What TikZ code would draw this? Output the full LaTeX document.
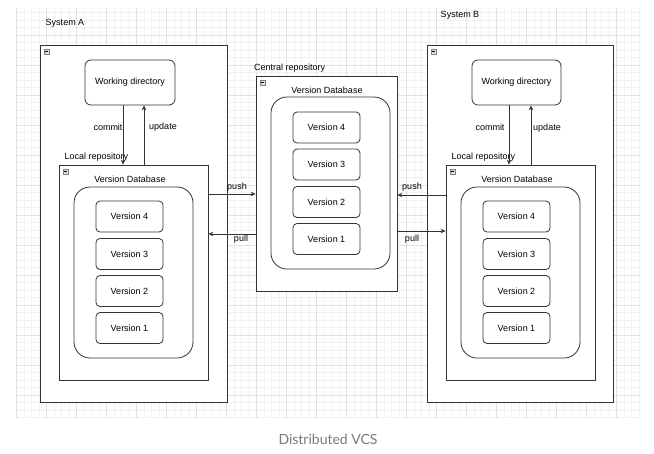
\documentclass[tikz,border=0pt]{standalone}
\usepackage{fontspec}
\setmainfont{Liberation Sans}
\newfontfamily\capfont{Lato}
\usetikzlibrary{arrows.meta}
\definecolor{lineC}{HTML}{333333}
\definecolor{gridMinor}{HTML}{F2F2F2}
\definecolor{gridMajor}{HTML}{E2E2E2}
\definecolor{capC}{HTML}{7A7A7A}
\tikzset{
  box/.style={draw=lineC, line width=0.8pt, fill=white, inner sep=0pt},
  sysbox/.style={box},
  wdbox/.style={box, rounded corners=6pt, font=\fontsize{9}{10}\selectfont},
  dbbox/.style={box, rounded corners=16pt},
  verbox/.style={box, rounded corners=4pt, minimum width=67pt, minimum height=31pt, font=\fontsize{9}{10}\selectfont},
  lbl/.style={font=\fontsize{9}{10}\selectfont, inner sep=0pt, text=black},
  arr/.style={draw=lineC, line width=0.7pt, -{Stealth[length=5pt,width=4.5pt]}},
  collapse/.style={draw=gray, fill=gray!25, minimum size=5pt, inner sep=0pt, line width=0.4pt,
    path picture={\draw[black, line width=0.5pt] ([xshift=1pt]path picture bounding box.west) -- ([xshift=-1pt]path picture bounding box.east);}},
}
\begin{document}
\begin{tikzpicture}[x=1pt,y=-1pt]
\useasboundingbox (0,0) rectangle (654,453);
\fill[white] (0,0) rectangle (654,453);
% grid
\begin{scope}
\clip (16,8) rectangle (640,418);
\foreach \i in {0,...,84} {
  \draw[gridMinor, line width=0.5pt] (16.7+7.5*\i,8) -- (16.7+7.5*\i,418);
}
\foreach \j in {0,...,56} {
  \draw[gridMinor, line width=0.5pt] (16,5+7.5*\j) -- (640,5+7.5*\j);
}
\foreach \i in {0,...,21} {
  \draw[gridMajor, line width=0.6pt] (16.7+30*\i,8) -- (16.7+30*\i,418);
}
\foreach \j in {1,...,14} {
  \draw[gridMajor, line width=0.6pt] (16,5+30*\j) -- (640,5+30*\j);
}
\end{scope}

% ---------------- System A ----------------
\node[lbl] (sysAlbl) at (65,23) {System A};
\node[sysbox, minimum width=187pt, minimum height=357pt] (sysA) at (133.5,223.5) {};
\node[collapse] (sysAc) at (46.5,51.5) {};
\node[wdbox, minimum width=90pt, minimum height=45pt] (wdA) at (130,82.5) {Working directory};
\node[box, minimum width=149pt, minimum height=215pt] (locA) at (133.5,272.5) {};
\node[collapse] (locAc) at (65.5,171.5) {};
\node[lbl, anchor=west] (locAlbl) at (64.5,157) {Local repository};
\node[lbl] (vdbAlbl) at (130,179) {Version Database};
\node[dbbox, minimum width=119pt, minimum height=171pt] (dbA) at (133.5,272.5) {};
\node[verbox] (a4) at (129.5,216.5) {Version 4};
\node[verbox] (a3) at (129.5,254) {Version 3};
\node[verbox] (a2) at (129.5,291) {Version 2};
\node[verbox] (a1) at (129.5,328) {Version 1};
\draw[arr] ([xshift=-7pt]wdA.south) -- ([xshift=-7pt]wdA.south |- locA.north);
\draw[arr] ([xshift=14pt]wdA.south |- locA.north) -- ([xshift=14pt]wdA.south);
\node[lbl] (commitA) at (108,127) {commit};
\node[lbl] (updateA) at (163,127) {update};

% ---------------- Central ----------------
\node[lbl, anchor=west] (cenlbl) at (254,68) {Central repository};
\node[box, minimum width=141pt, minimum height=215pt] (cen) at (326.5,183.5) {};
\node[collapse] (cenc) at (262.5,82.5) {};
\node[lbl] (vdbClbl) at (327,90) {Version Database};
\node[dbbox, minimum width=119pt, minimum height=172pt] (dbC) at (330.5,183) {};
\node[verbox] (c4) at (326.5,127.5) {Version 4};
\node[verbox] (c3) at (326.5,164.5) {Version 3};
\node[verbox] (c2) at (326.5,202) {Version 2};
\node[verbox] (c1) at (326.5,239) {Version 1};

% ---------------- System B ----------------
\node[lbl] (sysBlbl) at (460,15) {System B};
\node[sysbox, minimum width=186pt, minimum height=357pt] (sysB) at (520,223.5) {};
\node[collapse] (sysBc) at (433.5,51.5) {};
\node[wdbox, minimum width=89pt, minimum height=45pt] (wdB) at (516.5,82.5) {Working directory};
\node[box, minimum width=149pt, minimum height=215pt] (locB) at (520.5,272.5) {};
\node[collapse] (locBc) at (452.5,171.5) {};
\node[lbl, anchor=west] (locBlbl) at (451.5,157) {Local repository};
\node[lbl] (vdbBlbl) at (517,179) {Version Database};
\node[dbbox, minimum width=119pt, minimum height=171pt] (dbB) at (520.5,272.5) {};
\node[verbox] (b4) at (516.5,216.5) {Version 4};
\node[verbox] (b3) at (516.5,254) {Version 3};
\node[verbox] (b2) at (516.5,291) {Version 2};
\node[verbox] (b1) at (516.5,328) {Version 1};
\draw[arr] ([xshift=-7.5pt]wdB.south) -- ([xshift=-7.5pt]wdB.south |- locB.north);
\draw[arr] ([xshift=14.5pt]wdB.south |- locB.north) -- ([xshift=14.5pt]wdB.south);
\node[lbl] (commitB) at (490,127) {commit};
\node[lbl] (updateB) at (547,128) {update};

% ---------------- push / pull ----------------
\draw[arr] (locA.east |- 0,194) -- (cen.west |- 0,194);
\draw[arr] (cen.west |- 0,234) -- (locA.east |- 0,234);
\node[lbl] (pushA) at (237,187) {push};
\node[lbl] (pullA) at (241,239) {pull};
\draw[arr] (locB.west |- 0,195) -- (cen.east |- 0,195);
\draw[arr] (cen.east |- 0,231) -- (locB.west |- 0,231);
\node[lbl] (pushB) at (412,187) {push};
\node[lbl] (pullB) at (412,239) {pull};

% caption
\node[font=\capfont\fontsize{14}{16}\selectfont, text=capC, inner sep=0pt] (cap) at (328,439) {Distributed VCS};
\end{tikzpicture}
\end{document}
